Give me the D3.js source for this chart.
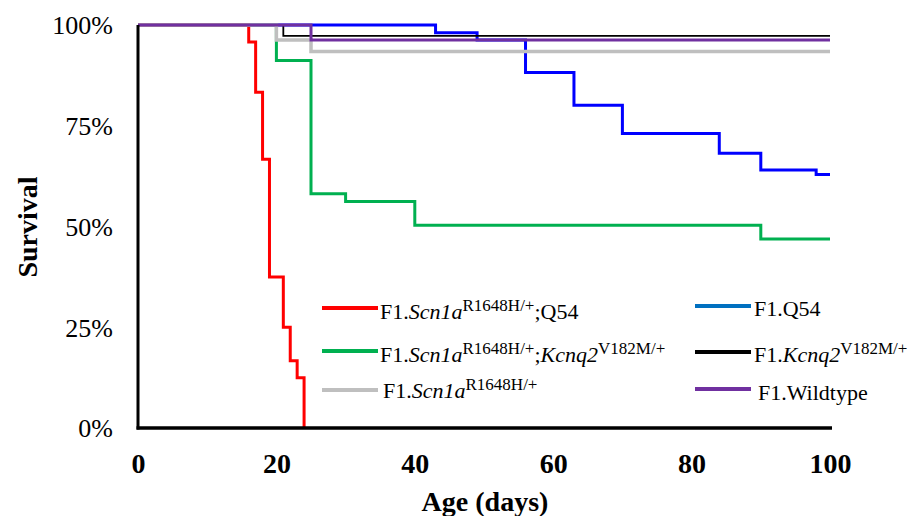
<!DOCTYPE html>
<html>
<head>
<meta charset="utf-8">
<script src="https://cdn.jsdelivr.net/npm/d3@7"></script>
<style>
  html, body { margin: 0; padding: 0; background: #fff; }
  svg { display: block; font-family: "Liberation Serif", "Times New Roman", serif; }
</style>
</head>
<body>
<svg id="chart" width="919" height="516"></svg>
<script>
// Kaplan–Meier survival steps: day of each event and survival fraction after it
const scnQ54Days = [0, 16, 17, 18, 19, 21, 22, 23, 24];
const scnQ54Surv = [1, 0.958, 0.833, 0.667, 0.375, 0.25, 0.167, 0.125, 0];

const q54Days = [0, 43, 49, 56, 63, 70, 84, 90, 98, 100];
const q54Surv = [1, 0.981, 0.963, 0.882, 0.801, 0.731, 0.682, 0.640, 0.629, 0.629];

const scnKcnqDays = [0, 20, 25, 30, 40, 90, 100];
const scnKcnqSurv = [1, 0.912, 0.581, 0.562, 0.503, 0.469, 0.469];

const kcnqDays = [0, 21, 100];
const kcnqSurv = [1, 0.973, 0.973];

const scnDays = [0, 20, 25, 100];
const scnSurv = [1, 0.963, 0.934, 0.934];

const wtDays = [0, 25, 100];
const wtSurv = [1, 0.963, 0.963];

const xTicks = [0, 20, 40, 60, 80, 100];
const yTicks = [0, 0.25, 0.5, 0.75, 1];

(function draw() {
  const svg = d3.select("#chart");
  const plotLeft = 138, plotRight = 830, plotTop = 25, plotBottom = 428;

  const x = d3.scaleLinear().domain([0, 100]).range([plotLeft, plotRight]);
  const y = d3.scaleLinear().domain([0, 1]).range([plotBottom, plotTop]);

  // Series in drawing order (later ones sit on top)
  const series = [
    { days: q54Days, surv: q54Surv, color: "#0000FF", width: 3 },
    { days: scnKcnqDays, surv: scnKcnqSurv, color: "#00B050", width: 3 },
    { days: scnQ54Days, surv: scnQ54Surv, color: "#FF0000", width: 3 },
    { days: kcnqDays, surv: kcnqSurv, color: "#000000", width: 1.8 },
    { days: scnDays, surv: scnSurv, color: "#BFBFBF", width: 3.5 },
    { days: wtDays, surv: wtSurv, color: "#7030A0", width: 3 }
  ];

  const line = d3.line()
    .x(d => x(d[0]))
    .y(d => y(d[1]))
    .curve(d3.curveStepAfter);

  // Axes: plain lines, labels only
  const xAxis = d3.axisBottom(x).tickValues(xTicks).tickSize(0).tickPadding(0);
  const yAxis = d3.axisLeft(y).tickValues(yTicks).tickSize(0).tickFormat(d3.format(".0%"));

  const gx = svg.append("g").attr("transform", `translate(0,${plotBottom})`).call(xAxis);
  gx.select(".domain").remove();
  gx.selectAll("text")
    .attr("y", 45).attr("dy", null)
    .attr("font-size", 28).attr("font-weight", "bold")
    .attr("font-family", "'Liberation Serif', 'Times New Roman', serif")
    .attr("fill", "#000");

  const gy = svg.append("g").attr("transform", `translate(${plotLeft},0)`).call(yAxis);
  gy.select(".domain").remove();
  gy.selectAll("text")
    .attr("x", -25).attr("dy", "0.34em")
    .attr("font-size", 26)
    .attr("font-family", "'Liberation Serif', 'Times New Roman', serif")
    .attr("fill", "#000");

  // Survival curves
  svg.append("g").selectAll("path")
    .data(series)
    .join("path")
    .attr("d", s => line(s.days.map((d, i) => [d, s.surv[i]])))
    .attr("fill", "none")
    .attr("stroke", s => s.color)
    .attr("stroke-width", s => s.width)
    .attr("stroke-linejoin", "miter");

  // Axis lines drawn over the curves
  svg.append("line").attr("x1", plotLeft).attr("x2", plotLeft).attr("y1", plotTop).attr("y2", plotBottom + 1.5)
    .attr("stroke", "#000").attr("stroke-width", 3);
  svg.append("line").attr("x1", plotLeft - 1.5).attr("x2", plotRight + 2).attr("y1", plotBottom).attr("y2", plotBottom)
    .attr("stroke", "#000").attr("stroke-width", 3.5);

  // Axis titles
  svg.append("text")
    .attr("x", 485).attr("y", 511)
    .attr("text-anchor", "middle")
    .attr("font-size", 28).attr("font-weight", "bold")
    .text("Age (days)");

  svg.append("text")
    .attr("transform", "translate(37,227) rotate(-90)")
    .attr("text-anchor", "middle")
    .attr("font-size", 28).attr("font-weight", "bold")
    .text("Survival");

  // Legend: each label is a list of [text, style] runs
  const legendItems = [
    { color: "#FF0000", lx: 322, ly: 308, tx: 380, ty: 319,
      parts: [["F1.", "n"], ["Scn1a", "i"], ["R1648H/+", "s"], [";Q54", "n"]] },
    { color: "#00B050", lx: 322, ly: 351, tx: 380, ty: 362,
      parts: [["F1.", "n"], ["Scn1a", "i"], ["R1648H/+", "s"], [";", "n"], ["Kcnq2", "i"], ["V182M/+", "s"]] },
    { color: "#BFBFBF", lx: 322, ly: 390, tx: 383, ty: 398,
      parts: [["F1.", "n"], ["Scn1a", "i"], ["R1648H/+", "s"]] },
    { color: "#0070C0", lx: 695, ly: 306, tx: 754, ty: 316,
      parts: [["F1.Q54", "n"]] },
    { color: "#000000", lx: 695, ly: 352, tx: 754, ty: 362,
      parts: [["F1.", "n"], ["Kcnq2", "i"], ["V182M/+", "s"]] },
    { color: "#7030A0", lx: 695, ly: 389, tx: 758, ty: 400,
      parts: [["F1.Wildtype", "n"]] }
  ];

  const lg = svg.append("g");
  legendItems.forEach(item => {
    lg.append("line")
      .attr("x1", item.lx).attr("x2", item.lx + 56)
      .attr("y1", item.ly).attr("y2", item.ly)
      .attr("stroke", item.color).attr("stroke-width", 4);
    const t = lg.append("text")
      .attr("x", item.tx).attr("y", item.ty)
      .attr("font-size", 22);
    let raised = false;
    item.parts.forEach(([txt, style]) => {
      const sp = t.append("tspan").text(txt);
      if (style === "s") {
        sp.attr("font-size", 17).attr("dy", raised ? 0 : -8.5);
        raised = true;
      } else {
        if (raised) { sp.attr("dy", 8.5); raised = false; }
        if (style === "i") sp.attr("font-style", "italic");
      }
    });
  });
})();
</script>
</body>
</html>
